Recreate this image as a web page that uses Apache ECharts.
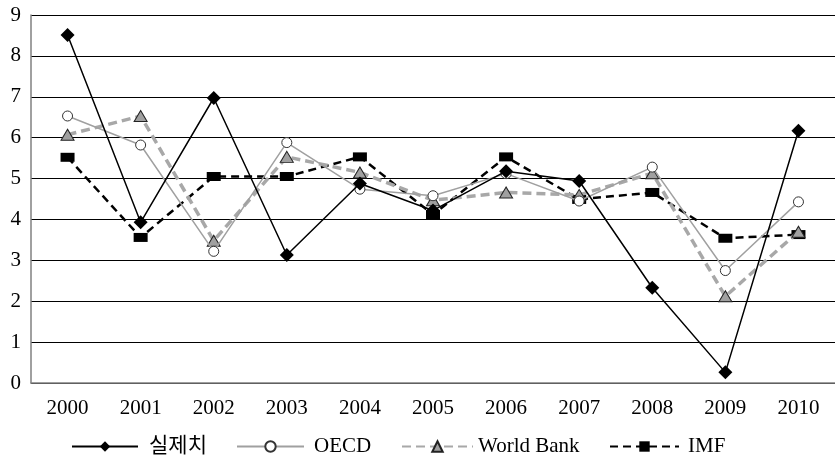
<!DOCTYPE html>
<html>
<head>
<meta charset="utf-8">
<script src="https://cdn.jsdelivr.net/npm/echarts@6/dist/echarts.min.js"></script>
<style>html,body{margin:0;padding:0;background:#fff}#c{width:835px;height:457px}</style>
</head>
<body>
<div id="c"></div>
<script>
const years = ['2000','2001','2002','2003','2004','2005','2006','2007','2008','2009','2010'];
const actual = [8.51, 3.93, 6.97, 3.13, 4.88, 4.22, 5.18, 4.94, 2.33, 0.26, 6.17];
const oecd = [6.53, 5.82, 3.22, 5.88, 4.74, 4.58, 5.12, 4.45, 5.28, 2.75, 4.43];
const worldBank = [6.07, 6.53, 3.48, 5.53, 5.15, 4.47, 4.66, 4.6, 5.13, 2.12, 3.7];
const imf = [5.52, 3.56, 5.05, 5.05, 5.53, 4.12, 5.53, 4.49, 4.66, 3.54, 3.63];
const yTicks = [0,1,2,3,4,5,6,7,8,9];

const FONT = '"Liberation Serif", "DejaVu Serif", "Noto Sans CJK KR", serif';
const chart = echarts.init(document.getElementById('c'));

function legend(name, left, w, pad) {
  return {
    data: [name], left: left, top: 431, itemWidth: w, itemHeight: 13,
    textStyle: {fontFamily: FONT, fontSize: 21, color: '#000', padding: [0,0,0,pad]},
    selectedMode: false
  };
}

chart.setOption({
  animation: false,
  backgroundColor: '#fff',
  grid: {left: 31, top: 15, right: -8, bottom: 74, containLabel: false},
  legend: [
    legend('실제치', 66, 66, 6),
    legend('OECD', 231, 67, 5),
    legend('World Bank', 396, 71, 0),
    legend('IMF', 604, 69, 4)
  ],
  xAxis: {
    type: 'category', data: years, boundaryGap: true,
    axisLine: {lineStyle: {color: '#808080', width: 1.5}},
    axisTick: {inside: true, length: 8, lineStyle: {color: '#555', width: 1}, alignWithLabel: false},
    axisLabel: {fontFamily: FONT, fontSize: 21, color: '#000', margin: 15}
  },
  yAxis: {
    type: 'value', min: yTicks[0], max: yTicks[yTicks.length-1], interval: 1,
    axisLine: {show: true, lineStyle: {color: '#808080', width: 1.5}},
    axisTick: {show: false},
    axisLabel: {fontFamily: FONT, fontSize: 21, color: '#000', margin: 10},
    splitLine: {lineStyle: {color: '#000', width: 1}}
  },
  series: [
    {
      name: 'IMF', type: 'line', data: imf, z: 2,
      symbol: 'rect', symbolSize: [14, 9],
      itemStyle: {color: '#000'},
      lineStyle: {color: '#000', width: 2.5, type: [8, 5]}
    },
    {
      name: 'World Bank', type: 'line', data: worldBank, z: 3,
      symbol: 'triangle', symbolSize: [13, 11],
      itemStyle: {color: '#a0a0a0', borderColor: '#222', borderWidth: 1},
      lineStyle: {color: '#a8a8a8', width: 3.5, type: [9, 5]}
    },
    {
      name: 'OECD', type: 'line', data: oecd, z: 4,
      symbol: 'circle', symbolSize: 10,
      itemStyle: {color: '#fff', borderColor: '#333', borderWidth: 1},
      lineStyle: {color: '#a0a0a0', width: 1.5}
    },
    {
      name: '실제치', type: 'line', data: actual, z: 5,
      symbol: 'diamond', symbolSize: 14,
      itemStyle: {color: '#000'},
      lineStyle: {color: '#000', width: 1.5}
    }
  ]
});
</script>
</body>
</html>
